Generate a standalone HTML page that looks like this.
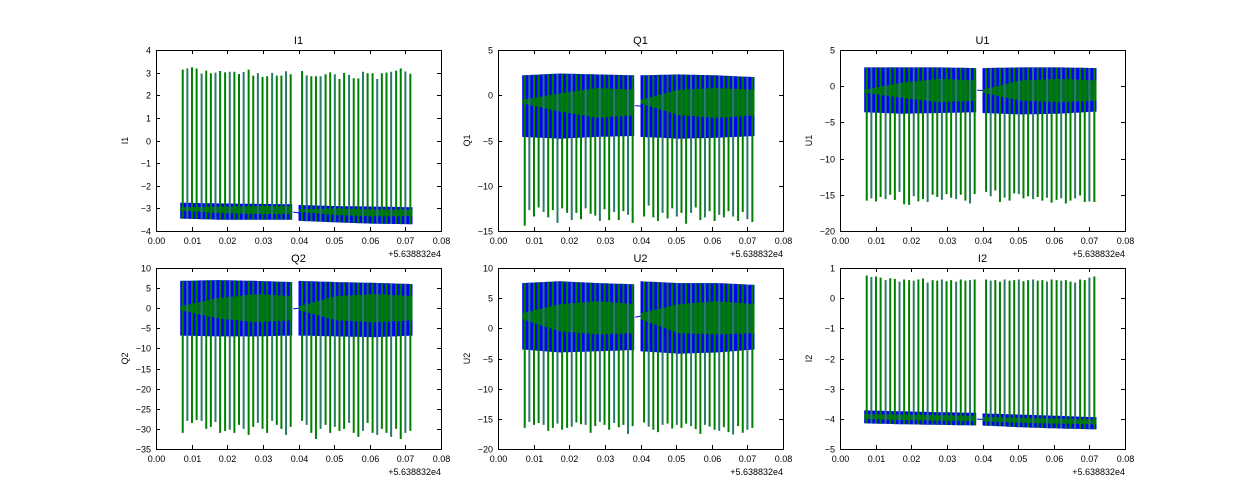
<!DOCTYPE html>
<html><head><meta charset="utf-8">
<style>
html,body{margin:0;padding:0;background:#fff;}
svg{display:block;font-family:"Liberation Sans",sans-serif;}
</style></head>
<body>
<svg id="fig" width="1250" height="500" viewBox="0 0 1250 500" xmlns="http://www.w3.org/2000/svg">
<rect x="0" y="0" width="1250" height="500" fill="#ffffff"/>
</svg>
<script>
const spikeTimes = [0.0075,0.0088,0.0101,0.0114,0.0128,0.0141,0.0154,0.0167,0.0180,0.0194,0.0207,0.0220,0.0233,0.0246,0.0260,0.0273,0.0286,0.0299,0.0312,0.0326,0.0339,0.0352,0.0365,0.0378,
  0.0410,0.0423,0.0436,0.0449,0.0462,0.0476,0.0489,0.0502,0.0515,0.0528,0.0542,0.0555,0.0568,0.0581,0.0594,0.0608,0.0621,0.0634,0.0647,0.0660,0.0674,0.0687,0.0700,0.0714];
const segStarts = [0.0068, 0.0400];
const segEnds = [0.0385, 0.0722];
const xTicks = [0,0.01,0.02,0.03,0.04,0.05,0.06,0.07,0.08];
const xTickLabels = ["0.00","0.01","0.02","0.03","0.04","0.05","0.06","0.07","0.08"];

const tipsI1 = [3.13,3.19,3.24,3.18,2.96,3.09,2.97,3.0,3.07,3.01,3.04,3.04,2.94,3.03,3.13,2.87,2.98,2.81,2.84,2.99,2.87,2.87,3.06,2.93,
  3.07,2.88,2.84,2.84,2.84,2.93,3.01,2.93,2.72,2.99,2.90,2.75,2.74,3.04,2.97,2.97,2.72,2.97,3.0,3.04,3.09,3.19,3.05,2.95];
const tipsQ1 = [-14.4,-12.7,-13.4,-12.4,-12.9,-13.5,-12.7,-14.1,-12.5,-13.0,-13.8,-13.0,-13.7,-12.5,-13.1,-13.3,-13.9,-12.6,-13.8,-12.9,-13.8,-12.8,-13.2,-14.1,
  -13.4,-12.2,-13.5,-13.9,-13.0,-13.6,-12.5,-13.4,-13.0,-14.2,-13.0,-12.4,-13.8,-13.5,-12.8,-13.9,-13.2,-13.5,-12.8,-13.4,-13.9,-12.9,-13.7,-14.0];
const tipsU1 = [-15.8,-15.5,-15.9,-15.3,-15.6,-15.0,-15.7,-14.6,-16.3,-16.4,-15.2,-15.9,-15.6,-16.0,-15.0,-15.3,-15.7,-14.9,-15.4,-15.6,-15.0,-15.8,-16.2,-14.9,
  -14.6,-15.2,-14.4,-16.0,-15.4,-15.8,-14.8,-14.9,-15.5,-15.2,-15.6,-15.3,-15.8,-15.4,-16.1,-15.7,-15.5,-16.2,-15.8,-15.5,-15.1,-16.0,-15.9,-16.0];
const tipsQ2 = [-31.0,-28.0,-28.5,-27.8,-28.0,-30.0,-29.5,-28.3,-31.0,-30.5,-30.2,-31.0,-29.0,-30.0,-31.5,-29.5,-28.5,-30.0,-31.0,-28.0,-29.0,-30.0,-31.5,-29.5,
  -28.0,-29.0,-31.0,-32.5,-30.0,-29.0,-31.0,-29.5,-30.5,-30.0,-28.5,-31.0,-32.0,-30.5,-28.5,-31.0,-31.5,-30.0,-31.0,-32.0,-30.0,-32.5,-31.0,-30.5];
const tipsU2 = [-16.5,-15.5,-16.0,-15.7,-16.0,-17.0,-16.5,-15.8,-16.8,-16.5,-16.3,-15.6,-15.9,-16.0,-17.3,-16.2,-15.5,-16.0,-16.8,-15.7,-16.4,-16.0,-17.5,-16.2,
  -15.6,-16.3,-16.8,-17.2,-16.0,-15.8,-16.6,-16.0,-16.5,-15.8,-16.2,-16.7,-17.5,-16.0,-16.3,-16.8,-17.0,-16.4,-17.2,-17.6,-16.2,-17.3,-16.8,-16.5];
const tipsI2 = [0.75,0.70,0.72,0.68,0.60,0.66,0.64,0.55,0.62,0.60,0.58,0.62,0.65,0.52,0.60,0.58,0.62,0.56,0.60,0.55,0.62,0.58,0.60,0.62,
  0.62,0.58,0.60,0.55,0.62,0.58,0.60,0.62,0.56,0.60,0.62,0.58,0.60,0.55,0.62,0.60,0.58,0.60,0.55,0.52,0.62,0.60,0.68,0.72];

const bandHiI1 = [[-2.75,-2.78,-2.80,-2.82],[-2.85,-2.90,-2.92,-2.95]];
const bandLoI1 = [[-3.45,-3.50,-3.50,-3.50],[-3.55,-3.62,-3.68,-3.70]];
const bandHiQ1 = [[2.2,2.4,2.3,2.2],[2.2,2.3,2.2,2.0]];
const bandLoQ1 = [[-4.6,-4.8,-4.6,-4.5],[-4.6,-4.8,-4.7,-4.5]];
const bandHiU1 = [[2.6,2.6,2.6,2.5],[2.5,2.6,2.6,2.5]];
const bandLoU1 = [[-3.6,-3.8,-3.7,-3.6],[-3.7,-3.9,-3.8,-3.5]];
const bandHiQ2 = [[6.8,7.0,6.8,6.5],[6.8,6.5,6.3,6.0]];
const bandLoQ2 = [[-6.8,-7.0,-7.0,-6.8],[-6.8,-7.0,-7.2,-6.8]];
const bandHiU2 = [[7.5,7.8,7.5,7.3],[7.8,7.5,7.5,7.2]];
const bandLoU2 = [[-3.5,-4.0,-3.8,-3.6],[-3.8,-4.2,-4.0,-3.5]];
const bandHiI2 = [[-3.72,-3.75,-3.78,-3.80],[-3.82,-3.86,-3.90,-3.95]];
const bandLoI2 = [[-4.15,-4.18,-4.20,-4.22],[-4.22,-4.28,-4.32,-4.35]];

const gHiI1 = [[-2.95,-2.92,-2.9,-2.9],[-3.05,-3.0,-3.05,-3.05]];
const gLoI1 = [[-3.1,-3.2,-3.25,-3.25],[-3.15,-3.3,-3.35,-3.35]];
const gHiQ1 = [[-0.5,0.2,0.8,0.6],[-0.5,0.6,0.8,0.6]];
const gLoQ1 = [[-0.9,-1.8,-2.5,-2.2],[-0.9,-2.2,-2.5,-2.2]];
const gHiU1 = [[-0.5,0.5,1.0,0.8],[-0.5,0.8,1.0,0.8]];
const gLoU1 = [[-0.9,-1.6,-2.2,-2.0],[-0.9,-2.0,-2.2,-2.0]];
const gHiQ2 = [[0.5,2.5,3.5,3.0],[0.5,3.0,3.5,3.0]];
const gLoQ2 = [[-0.5,-2.5,-3.5,-3.0],[-0.5,-3.0,-3.5,-3.0]];
const gHiU2 = [[2.5,4.0,4.5,4.0],[2.5,4.0,4.5,4.0]];
const gLoU2 = [[1.5,-0.5,-1.0,-0.8],[1.5,-0.8,-1.0,-0.8]];
const gHiI2 = [[-3.85,-3.86,-3.88,-3.9],[-3.94,-3.97,-4.0,-4.02]];
const gLoI2 = [[-4.0,-4.04,-4.06,-4.08],[-4.08,-4.13,-4.16,-4.18]];

const yTicksI1 = [-4,-3,-2,-1,0,1,2,3,4];
const yTicksQ1 = [-15,-10,-5,0,5];
const yTicksU1 = [-20,-15,-10,-5,0,5];
const yTicksQ2 = [-35,-30,-25,-20,-15,-10,-5,0,5,10];
const yTicksU2 = [-20,-15,-10,-5,0,5,10];
const yTicksI2 = [-5,-4,-3,-2,-1,0,1];

const plots = [
 {name:'I1',left:156,top:50,ticks:yTicksI1,tips:tipsI1,bh:bandHiI1,bl:bandLoI1,gh:gHiI1,gl:gLoI1,up:true},
 {name:'Q1',left:498,top:50,ticks:yTicksQ1,tips:tipsQ1,bh:bandHiQ1,bl:bandLoQ1,gh:gHiQ1,gl:gLoQ1,up:false},
 {name:'U1',left:840,top:50,ticks:yTicksU1,tips:tipsU1,bh:bandHiU1,bl:bandLoU1,gh:gHiU1,gl:gLoU1,up:false},
 {name:'Q2',left:156,top:268,ticks:yTicksQ2,tips:tipsQ2,bh:bandHiQ2,bl:bandLoQ2,gh:gHiQ2,gl:gLoQ2,up:false},
 {name:'U2',left:498,top:268,ticks:yTicksU2,tips:tipsU2,bh:bandHiU2,bl:bandLoU2,gh:gHiU2,gl:gLoU2,up:false},
 {name:'I2',left:840,top:268,ticks:yTicksI2,tips:tipsI2,bh:bandHiI2,bl:bandLoI2,gh:gHiI2,gl:gLoI2,up:true}
];
const W=285,H=181;
const NS='http://www.w3.org/2000/svg';
const fig=document.getElementById('fig');
function mk(tag,attrs,parent){const e=document.createElementNS(NS,tag);for(const k in attrs)e.setAttribute(k,attrs[k]);(parent||fig).appendChild(e);return e;}
function interp(arr,t){const f=t*(arr.length-1);const i=Math.min(Math.floor(f),arr.length-2);const r=f-i;return arr[i]*(1-r)+arr[i+1]*r;}

plots.forEach(p=>{
  const ymin=p.ticks[0],ymax=p.ticks[p.ticks.length-1];
  const sx=v=>p.left+v/0.08*W;
  const sy=v=>p.top+H-(v-ymin)/(ymax-ymin)*H;
  const g=mk('g',{});
  
  
  const clipId='clip'+p.name;
  const cp=mk('clipPath',{id:clipId},g);
  mk('rect',{x:p.left,y:p.top,width:W,height:H},cp);
  const dg=mk('g',{'clip-path':'url(#'+clipId+')'},g);
  function band(hi,lo,color,opacity){
    let d='';
    for(let s=0;s<2;s++){
      const x0=sx(segStarts[s]),x1=sx(segEnds[s]);
      const top=[],bot=[];
      for(let x=x0;x<=x1+0.01;x+=2){
        const t=Math.min(1,(x-x0)/(x1-x0));
        top.push(x.toFixed(1)+','+sy(interp(hi[s],t)).toFixed(1));
        bot.unshift(x.toFixed(1)+','+sy(interp(lo[s],t)).toFixed(1));
      }
      d+='M'+top.join('L')+'L'+bot.join('L')+'Z';
    }
    return mk('path',{d:d,fill:color,'fill-opacity':opacity,stroke:'none'},dg);
  }
  const blue=band(p.bh,p.bl,'#0000ff',1);
  
  
  const m0=(interp(p.bh[0],1)+interp(p.bl[0],1))/2, m1=(interp(p.bh[1],0)+interp(p.bl[1],0))/2;
  const con=mk('line',{x1:sx(segEnds[0]),y1:sy(m0),x2:sx(segStarts[1]),y2:sy(m1),stroke:'#0000ff','stroke-width':1},dg);
  
  
  const green=band(p.gh,p.gl,'#008000',0.85);
  
  
  spikeTimes.forEach((t,i)=>{
    const s=i<24?0:1;
    const tt=(t-segStarts[s])/(segEnds[s]-segStarts[s]);
    const base=p.up?interp(p.bl[s],tt):interp(p.bh[s],tt);
    const ln=mk('line',{x1:sx(t),x2:sx(t),y1:sy(base),y2:sy(p.tips[i]),stroke:(i%3===1)?'#2a7a6a':'#008000','stroke-width':2},dg);
    
    
  });
  const fr=mk('rect',{x:p.left+0.5,y:p.top+0.5,width:W,height:H,fill:'none',stroke:'#000','stroke-width':1},g);
  
  
  xTicks.forEach((v,i)=>{
    const x=Math.round(sx(v))+0.5;
    mk('line',{x1:x,x2:x,y1:p.top+H,y2:p.top+H-4,stroke:'#000'},g);
    mk('line',{x1:x,x2:x,y1:p.top,y2:p.top+4,stroke:'#000'},g);
    const tx=mk('text',{x:x,y:p.top+H+13,'font-size':9,'text-anchor':'middle',fill:'#000'},g);
    tx.textContent=xTickLabels[i];
    
    
  });
  p.ticks.forEach(v=>{
    const y=Math.round(sy(v))+0.5;
    mk('line',{x1:p.left,x2:p.left+4,y1:y,y2:y,stroke:'#000'},g);
    mk('line',{x1:p.left+W,x2:p.left+W-4,y1:y,y2:y,stroke:'#000'},g);
    const tx=mk('text',{x:p.left-5,y:y+3,'font-size':9,'text-anchor':'end',fill:'#000'},g);
    tx.textContent=(v<0?'\u2212'+(-v):String(v));
    
    
  });
  const off=mk('text',{x:p.left+W,y:p.top+H+26,'font-size':9,'text-anchor':'end',fill:'#000'},g);
  off.textContent='+5.638832e4';
  
  
  const ti=mk('text',{x:p.left+W/2,y:p.top-6,'font-size':11,'text-anchor':'middle',fill:'#000'},g);
  ti.textContent=p.name;
  
  
  const yl=mk('text',{x:0,y:0,'font-size':9,'text-anchor':'middle',fill:'#000',transform:'translate('+(p.left-28)+','+(p.top+H/2)+') rotate(-90)'},g);
  yl.textContent=p.name;
  
  
});
</script>
</body></html>
